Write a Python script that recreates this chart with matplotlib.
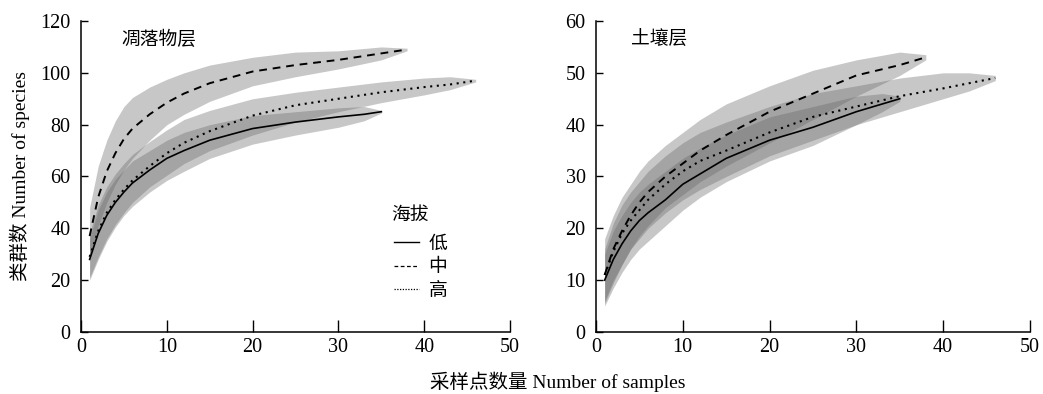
import matplotlib
matplotlib.use("Agg")
import matplotlib.pyplot as plt

plt.rcParams['font.family'] = ['Liberation Serif', 'Noto Sans CJK SC']
plt.rcParams['axes.unicode_minus'] = False

# -------------------------------------------------------
# DATA
# -------------------------------------------------------

# litter layer 凋落物层
lit_low_x = [1, 2, 3, 4, 5, 6, 8, 10, 12, 15, 20, 25, 30, 33, 35]
lit_low_y = [28, 38, 45, 50, 54, 57.5, 62.5, 67, 70, 74, 78.5, 81, 83, 84, 85]
lit_low_lo = [20, 28, 35, 40.5, 45, 48.5, 54, 58.5, 62, 67, 72.5, 76, 79, 81.5, 84.5]
lit_low_hi = [36, 47, 54, 59, 62.5, 66, 70, 74, 77, 80, 83.5, 85, 86.5, 87, 85.5]

lit_mid_x = [1, 2, 3, 4, 5, 6, 8, 10, 12, 15, 20, 25, 30, 35, 38]
lit_mid_y = [37, 52, 62, 69, 74.5, 78.5, 84, 88.5, 92, 96, 100.5, 103, 105, 107.5, 109]
lit_mid_lo = [28, 41, 50, 57, 62.5, 67, 74, 80, 84, 89, 95, 98.5, 101.5, 105, 108.5]
lit_mid_hi = [48, 64, 74, 81.5, 87, 90.5, 94.5, 97.5, 100, 103, 106, 108, 108.5, 110, 109.5]

lit_high_x = [1, 2, 3, 4, 5, 6, 8, 10, 12, 15, 20, 25, 30, 35, 40, 43, 46]
lit_high_y = [29, 39, 46, 51, 55, 58.5, 64, 69, 73, 77.5, 83.5, 87.5, 90, 92.5, 94.5, 95.5, 97]
lit_high_lo = [21, 29, 36, 41.5, 46, 50, 56, 60.5, 65, 70, 76, 81, 85, 88.5, 91.5, 93.5, 96.5]
lit_high_hi = [38, 49, 56, 61, 65, 68.5, 73.5, 78, 82, 85.5, 90, 92.5, 94.5, 96.5, 98, 98.5, 97.5]

# soil layer 土壤层
soil_low_x = [1, 2, 3, 4, 5, 6, 8, 10, 12, 15, 20, 25, 30, 33, 35]
soil_low_y = [10, 14, 17, 19.5, 21.5, 23, 25.5, 28.5, 30.5, 33.5, 37, 39.5, 42.5, 44, 45]
soil_low_lo = [5, 8.5, 11.5, 14, 16, 17.5, 20.5, 23.5, 26, 29, 33, 36, 40, 42.5, 44.5]
soil_low_hi = [15, 19.5, 22.5, 25, 27, 28.5, 31, 33.5, 35.5, 38, 41.5, 43.5, 45.5, 46, 45.5]

soil_mid_x = [1, 2, 3, 4, 5, 6, 8, 10, 12, 15, 20, 25, 30, 35, 38]
soil_mid_y = [11, 16, 19.5, 22.5, 25, 27, 30, 32.5, 35, 38, 42.5, 46, 49.5, 51.5, 53]
soil_mid_lo = [5.5, 9.5, 13, 16, 18.5, 20.5, 24, 26.5, 29, 32, 36.5, 41, 45.5, 49.5, 52.5]
soil_mid_hi = [18, 22.5, 26, 28.5, 31, 33, 36, 38.5, 41, 44, 47.5, 50.5, 52.5, 54, 53.5]

soil_high_x = [1, 2, 3, 4, 5, 6, 8, 10, 12, 15, 20, 25, 30, 35, 40, 43, 46]
soil_high_y = [11, 15.5, 19, 21.5, 23.5, 25.5, 28.5, 31, 33, 35, 38.5, 41.5, 43.5, 45.5, 47, 48, 49]
soil_high_lo = [6, 10, 13, 16, 18, 20, 23, 25.5, 27.5, 30, 34, 37, 40, 42.5, 45, 46.5, 48.5]
soil_high_hi = [16, 21, 24.5, 27, 29, 31, 34, 36.5, 38.5, 40.5, 43.5, 46, 47.5, 49, 50, 50, 49.5]

legend_labels = ["低", "中", "高"]

# -------------------------------------------------------
# PLOT
# -------------------------------------------------------

fig = plt.figure(figsize=(10.43, 3.94), dpi=100)
ax1 = fig.add_axes([0.0777, 0.1574, 0.4113, 0.7893])
ax2 = fig.add_axes([0.5714, 0.1574, 0.4161, 0.7893])

band_color = (0.4, 0.4, 0.4)
band_alpha = 0.36
styles = [
    dict(linestyle='-', linewidth=1.2),
    dict(linestyle=(0, (4, 3)), linewidth=1.4),
    dict(linestyle=(0, (1, 2.2)), linewidth=1.5),
]


def draw_panel(ax, series, ymax, yticks, title, title_x):
    for (x, y, lo, hi), st in zip(series, styles):
        ax.fill_between(x, lo, hi, color=band_color, alpha=band_alpha,
                        linewidth=0)
    for (x, y, lo, hi), st in zip(series, styles):
        ax.plot(x, y, color='black', **st)
    ax.set_xlim(0, 50)
    ax.set_ylim(0, ymax)
    ax.set_xticks([0, 10, 20, 30, 40, 50])
    ax.set_yticks(yticks)
    ax.spines['top'].set_visible(False)
    ax.spines['right'].set_visible(False)
    ax.spines['left'].set_linewidth(1.1)
    ax.spines['bottom'].set_linewidth(1.1)
    ax.tick_params(axis='x', direction='in', length=8.5, width=1, pad=4,
                   labelsize=14.5)
    ax.tick_params(axis='y', direction='in', length=5, width=1, pad=7.5,
                   labelsize=14.5)
    ax.text(title_x, 0.94, title, transform=ax.transAxes, fontsize=13.5,
            va='center', ha='left')


draw_panel(
    ax1,
    [(lit_low_x, lit_low_y, lit_low_lo, lit_low_hi),
     (lit_mid_x, lit_mid_y, lit_mid_lo, lit_mid_hi),
     (lit_high_x, lit_high_y, lit_high_lo, lit_high_hi)],
    120, [0, 20, 40, 60, 80, 100, 120], "凋落物层", 0.095)

draw_panel(
    ax2,
    [(soil_low_x, soil_low_y, soil_low_lo, soil_low_hi),
     (soil_mid_x, soil_mid_y, soil_mid_lo, soil_mid_hi),
     (soil_high_x, soil_high_y, soil_high_lo, soil_high_hi)],
    60, [0, 10, 20, 30, 40, 50, 60], "土壤层", 0.08)

# legend: title as text, entries as legend
ax1.text(0.722, 0.376, "海拔", transform=ax1.transAxes, fontsize=13.5,
         va='center', ha='left')
leg_handles = [
    plt.Line2D([], [], color='black', linestyle='-', linewidth=1.0),
    plt.Line2D([], [], color='black', linestyle=(0, (3, 2)), linewidth=0.9),
    plt.Line2D([], [], color='black', linestyle=(0, (1, 1.2)), linewidth=0.9),
]
ax1.legend(leg_handles, legend_labels, loc='upper left',
           bbox_to_anchor=(0.729, 0.31), frameon=False, fontsize=13.5,
           handlelength=1.35, handletextpad=0.5, labelspacing=0.34,
           borderaxespad=0, borderpad=0)

fig.text(0.535, 0.03, "采样点数量 Number of samples", ha='center',
         va='center', fontsize=14)
fig.text(0.019, 0.553, "类群数 Number of species", ha='center',
         va='center', rotation=90, fontsize=14)

fig.savefig("out.png", dpi=100)
